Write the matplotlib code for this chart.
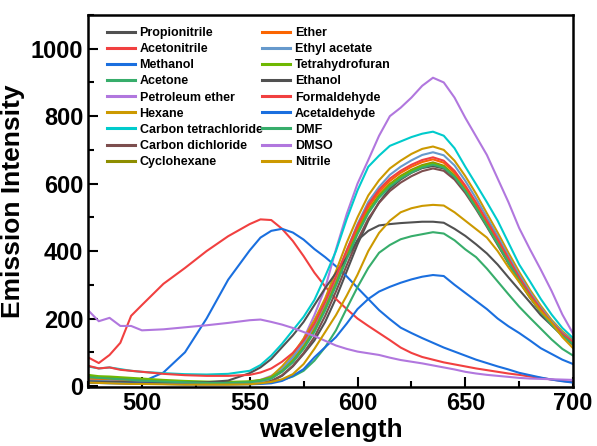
import matplotlib
matplotlib.use('Agg')
import matplotlib.pyplot as plt
from matplotlib.ticker import MultipleLocator

plt.rcParams['font.family'] = ['Liberation Sans', 'DejaVu Sans']
plt.rcParams['font.weight'] = 'bold'

# wavelength grid (nm)
wavelength = [475, 480, 485, 490, 495, 500, 510, 520, 530, 540, 550,
              555, 560, 565, 570, 575, 580, 585, 590, 595, 600,
              605, 610, 615, 620, 625, 630, 635, 640, 645, 650,
              655, 660, 665, 670, 675, 680, 685, 690, 695, 700]

propionitrile = [12, 11, 10, 9, 9, 8, 7, 6, 6, 6, 7, 10, 15, 30, 58, 95, 135, 190, 260, 340, 420,
                 490, 545, 585, 612, 632, 646, 652, 645, 618, 578, 530, 478, 424, 368, 314, 265, 222, 184, 152, 127]
acetonitrile = [85, 68, 92, 128, 208, 240, 303, 350, 400, 444, 480, 494, 492, 466, 430, 385, 336, 295, 258, 228, 200,
                178, 157, 136, 114, 98, 86, 78, 70, 64, 58, 52, 47, 42, 37, 33, 28, 24, 19, 15, 11]
methanol = [15, 14, 12, 10, 10, 12, 40, 100, 200, 315, 402, 440, 460, 466, 455, 434, 406, 382, 355, 325, 291,
            258, 225, 198, 173, 157, 142, 128, 114, 102, 90, 78, 68, 58, 49, 39, 32, 25, 19, 14, 10]
acetone = [30, 27, 25, 22, 20, 18, 15, 12, 10, 9, 9, 10, 12, 18, 28, 45, 75, 115, 165, 230, 293,
           350, 395, 418, 435, 444, 450, 456, 452, 432, 405, 382, 348, 310, 272, 235, 202, 170, 138, 110, 90]
petroleum_ether = [15, 14, 13, 12, 11, 10, 9, 8, 8, 9, 12, 18, 30, 50, 88, 140, 210, 290, 405, 510, 600,
                   670, 742, 800, 825, 855, 890, 914, 900, 855, 795, 740, 685, 615, 545, 468, 405, 345, 282, 212, 155]
hexane = [22, 20, 19, 17, 15, 13, 10, 8, 7, 7, 9, 15, 28, 58, 95, 140, 195, 260, 340, 425, 500,
          565, 610, 645, 668, 688, 703, 710, 700, 668, 622, 570, 512, 455, 395, 338, 285, 238, 196, 162, 135]
ccl4 = [58, 52, 55, 50, 45, 42, 38, 35, 34, 36, 45, 62, 90, 125, 165, 205, 255, 325, 400, 495, 580,
        650, 683, 712, 725, 738, 748, 754, 742, 705, 650, 598, 545, 490, 425, 360, 310, 258, 212, 172, 142]
carbon_dichloride = [10, 9, 9, 8, 8, 7, 6, 5, 5, 5, 6, 9, 14, 32, 60, 98, 145, 208, 280, 358, 432,
                     496, 543, 578, 603, 622, 637, 645, 638, 612, 572, 524, 472, 418, 363, 310, 262, 219, 182, 150, 126]
cyclohexane = [28, 25, 24, 22, 20, 18, 15, 12, 10, 10, 12, 16, 24, 44, 74, 114, 165, 230, 304, 383, 458,
               520, 566, 599, 623, 641, 655, 663, 653, 624, 582, 532, 479, 425, 369, 315, 265, 221, 183, 151, 126]
ether = [20, 18, 17, 15, 14, 12, 10, 9, 8, 8, 10, 14, 22, 45, 78, 120, 172, 238, 312, 392, 466,
         530, 575, 608, 632, 650, 664, 672, 662, 632, 588, 538, 484, 430, 373, 318, 268, 224, 185, 152, 127]
ethyl_acetate = [16, 15, 14, 13, 12, 11, 9, 8, 7, 7, 9, 12, 22, 50, 85, 128, 180, 246, 322, 402, 480,
                 546, 590, 626, 650, 669, 685, 693, 684, 654, 608, 556, 500, 444, 385, 330, 278, 232, 192, 158, 132]
thf = [33, 29, 28, 26, 24, 22, 18, 15, 13, 12, 14, 18, 26, 45, 75, 115, 165, 230, 303, 382, 456,
       518, 563, 596, 620, 638, 652, 660, 650, 622, 580, 530, 477, 423, 367, 313, 264, 220, 182, 150, 125]
ethanol = [14, 13, 12, 12, 11, 10, 10, 10, 11, 16, 38, 55, 80, 115, 150, 190, 240, 290, 335, 380, 432,
           460, 476, 480, 483, 485, 487, 487, 484, 466, 445, 420, 393, 360, 322, 285, 248, 210, 180, 150, 122]
formaldehyde = [60, 52, 55, 48, 45, 42, 36, 32, 30, 30, 33, 40, 52, 72, 98, 135, 185, 250, 325, 402, 475,
                538, 582, 615, 638, 656, 670, 678, 668, 638, 594, 544, 490, 435, 378, 322, 272, 228, 188, 155, 130]
acetaldehyde = [10, 9, 8, 8, 7, 7, 6, 5, 5, 5, 5, 6, 8, 15, 30, 50, 85, 115, 145, 185, 228,
                258, 280, 294, 306, 316, 324, 329, 326, 300, 276, 252, 228, 200, 177, 157, 135, 112, 95, 78, 65]
dmf = [26, 24, 22, 20, 18, 16, 13, 11, 9, 9, 11, 15, 22, 42, 70, 110, 160, 224, 297, 376, 450,
       512, 558, 591, 615, 633, 648, 656, 647, 620, 578, 528, 475, 421, 366, 312, 263, 219, 181, 149, 124]
dmso = [225, 192, 202, 178, 178, 165, 168, 174, 180, 187, 195, 197, 190, 182, 172, 160, 148, 134, 120, 110, 102,
        97, 92, 84, 77, 72, 67, 61, 55, 49, 42, 37, 33, 30, 27, 24, 22, 21, 20, 19, 18]
nitrile = [10, 9, 8, 7, 6, 6, 5, 4, 4, 4, 5, 8, 12, 20, 35, 65, 110, 160, 210, 268, 330,
           400, 454, 490, 515, 527, 534, 537, 535, 515, 490, 465, 440, 400, 352, 308, 262, 222, 188, 145, 112]

names = ['Propionitrile', 'Acetonitrile', 'Methanol', 'Acetone', 'Petroleum ether',
         'Hexane', 'Carbon tetrachloride', 'Carbon dichloride', 'Cyclohexane',
         'Ether', 'Ethyl acetate', 'Tetrahydrofuran', 'Ethanol', 'Formaldehyde',
         'Acetaldehyde', 'DMF', 'DMSO', 'Nitrile']
series = [propionitrile, acetonitrile, methanol, acetone, petroleum_ether,
          hexane, ccl4, carbon_dichloride, cyclohexane,
          ether, ethyl_acetate, thf, ethanol, formaldehyde,
          acetaldehyde, dmf, dmso, nitrile]
colors = ['#515151', '#F14040', '#1A6FDF', '#37AD6B', '#B177DE', '#CC9900',
          '#00CBCC', '#7D4E4E', '#8E8E00', '#FB6501', '#6699CC', '#6FB802']

fig = plt.figure(figsize=(5.97, 4.46), dpi=100)
ax = fig.add_axes([0.1474, 0.1323, 0.8126, 0.8341])

for i, (name, vals) in enumerate(zip(names, series)):
    ax.plot(wavelength, vals, color=colors[i % len(colors)], lw=1.5, label=name)

ax.set_xlim(475, 700)
ax.set_ylim(-3, 1100)
ax.xaxis.set_major_locator(MultipleLocator(50))
ax.xaxis.set_minor_locator(MultipleLocator(25))
ax.yaxis.set_major_locator(MultipleLocator(200))
ax.yaxis.set_minor_locator(MultipleLocator(100))
ax.tick_params(which='both', direction='in', width=1.5, labelsize=17)
ax.tick_params(which='major', length=7)
ax.tick_params(which='minor', length=4)
for s in ax.spines.values():
    s.set_linewidth(1.8)

ax.set_xlabel('wavelength', fontsize=19, fontweight='bold', labelpad=2)
ax.set_ylabel('Emission Intensity', fontsize=19, fontweight='bold', labelpad=4)

leg = ax.legend(ncol=2, loc='upper left', bbox_to_anchor=(0.029, 0.981), frameon=False,
                fontsize=9, handlelength=2.2, handletextpad=0.4, columnspacing=0.0,
                labelspacing=0.33, borderaxespad=0)
for h in leg.get_lines():
    h.set_linewidth(2.2)

fig.savefig('out.png', dpi=100)
